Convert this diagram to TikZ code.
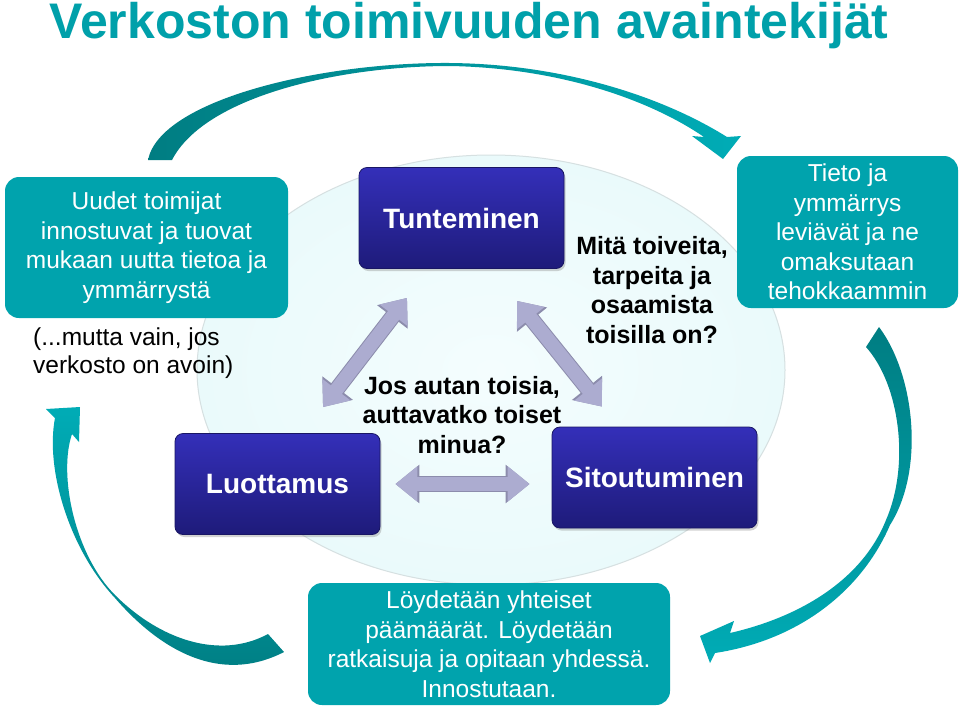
\documentclass[tikz,border=0pt]{standalone}
\usepackage{fontspec}
\setmainfont{Liberation Sans}
\usepackage{tikz}
\usetikzlibrary{arrows.meta,positioning,shadows}
\tikzstyle{otsikko} = [text=titleteal, font=\fontsize{50}{50}\selectfont\bfseries, anchor=base]
\tikzstyle{tealbox} = [rectangle, rounded corners=14pt, fill=boxteal, text=white, align=center, inner sep=0pt, font=\fontsize{24.5}{29.5}\selectfont]
\tikzstyle{darkbox} = [rectangle, rounded corners=8pt, top color=darktop, bottom color=darkbottom, draw=darkedge, line width=0.8pt, text=white, minimum width=205pt, minimum height=101pt, font=\fontsize{28}{30}\selectfont\bfseries, drop shadow={opacity=0.35, shadow xshift=1.5pt, shadow yshift=-2.5pt}]
\tikzstyle{kysymys} = [align=center, inner sep=0pt, font=\fontsize{25}{29.5}\selectfont\bfseries]
\tikzstyle{huom} = [align=left, inner sep=0pt, font=\fontsize{24.5}{28.5}\selectfont]
\tikzstyle{fatarrow} = [line width=14pt, draw=arrowgray, <->, >={Triangle[length=22pt,width=34pt]}, preaction={draw=arrowedge, line width=16pt, <->, >={Triangle[length=24pt,width=37pt]}}]
\tikzstyle{kaari} = [draw=none]
\definecolor{titleteal}{RGB}{0,160,170}
\definecolor{boxteal}{RGB}{0,163,173}
\definecolor{tealdark}{RGB}{0,125,130}
\definecolor{teallight}{RGB}{0,172,182}
\definecolor{darktop}{RGB}{52,47,185}
\definecolor{darkbottom}{RGB}{30,27,122}
\definecolor{darkedge}{RGB}{25,22,100}
\definecolor{arrowgray}{RGB}{172,172,208}
\definecolor{arrowedge}{RGB}{140,140,172}
\definecolor{circin}{RGB}{244,253,254}
\definecolor{circout}{RGB}{234,250,251}
\definecolor{circedge}{RGB}{214,224,225}

\begin{document}
\begin{tikzpicture}[x=1pt,y=-1pt]
\useasboundingbox (0,0) rectangle (960,710);
\fill[white] (0,0) rectangle (960,710);
% tausta
\draw[inner color=circin, outer color=circout, draw=circedge, line width=1pt] (491,370) ellipse [x radius=294pt, y radius=215pt];
\node (title) [otsikko] at (469,38) {Verkoston toimivuuden avaintekijät};

% kiertavat nuolet
\path[kaari, left color=tealdark, right color=teallight] (148,160) .. controls (160,100) and (320,62) .. (450,63) .. controls (560,64) and (660,95) .. (727,137) -- (741,136) -- (723,159) -- (692,136) -- (704,137) .. controls (650,100) and (560,68) .. (450,66) .. controls (340,66) and (205,96) .. (172,160) -- cycle;
\path[kaari, top color=tealdark, bottom color=teallight] (879,327) .. controls (915,375) and (925,470) .. (890,525) .. controls (862,590) and (800,640) .. (715,653) -- (710,663) -- (700,636) -- (734,621) -- (730,633) .. controls (800,617) and (862,580) .. (886,520) .. controls (910,465) and (900,385) .. (866,347) -- cycle;
\path[kaari, top color=teallight, bottom color=tealdark] (284,652) .. controls (220,685) and (160,650) .. (115,598) .. controls (70,550) and (45,470) .. (55,418) -- (46,409) -- (80,407) -- (79,442) -- (72,434) .. controls (58,475) and (75,555) .. (115,595) .. controls (160,640) and (220,660) .. (268,634) -- cycle;

\node (uudet) [tealbox, minimum width=283pt, minimum height=141pt] at (146.5,247.5) {Uudet toimijat\\ innostuvat ja tuovat\\ mukaan uutta tietoa ja\\ ymmärrystä};
\node (tieto) [tealbox, minimum width=221pt, minimum height=152pt] at (847.5,232) {Tieto ja\\ ymmärrys\\ leviävät ja ne\\ omaksutaan\\ tehokkaammin};
\node (loyd) [tealbox, minimum width=362pt, minimum height=122pt] at (489,644) {Löydetään yhteiset\\ päämäärät. Löydetään\\ ratkaisuja ja opitaan yhdessä.\\ Innostutaan.};
\node (avoin) [huom, anchor=west] at (33,353) {(...mutta vain, jos\\ verkosto on avoin)};

\node (tun) [darkbox] at (461.5,218) {Tunteminen};
\node (luo) [darkbox] at (277.5,484) {Luottamus};
\node (sit) [darkbox] at (654.5,477.5) {Sitoutuminen};

\draw[fatarrow] ([xshift=45.5pt,yshift=26pt]luo.north) -- ([xshift=-54.5pt,yshift=-29pt]tun.south);
\draw[fatarrow] ([xshift=55.5pt,yshift=-32pt]tun.south) -- ([xshift=-52.5pt,yshift=20pt]sit.north);
\draw[fatarrow] ([xshift=15pt]luo.east) -- ([xshift=-22pt]luo.east -| sit.west);

\node (mita) [kysymys] at (652,290) {Mitä toiveita,\\ tarpeita ja\\ osaamista\\ toisilla on?};
\node (jos) [kysymys] at (462,415) {Jos autan toisia,\\ auttavatko toiset\\ minua?};
\end{tikzpicture}
\end{document}
